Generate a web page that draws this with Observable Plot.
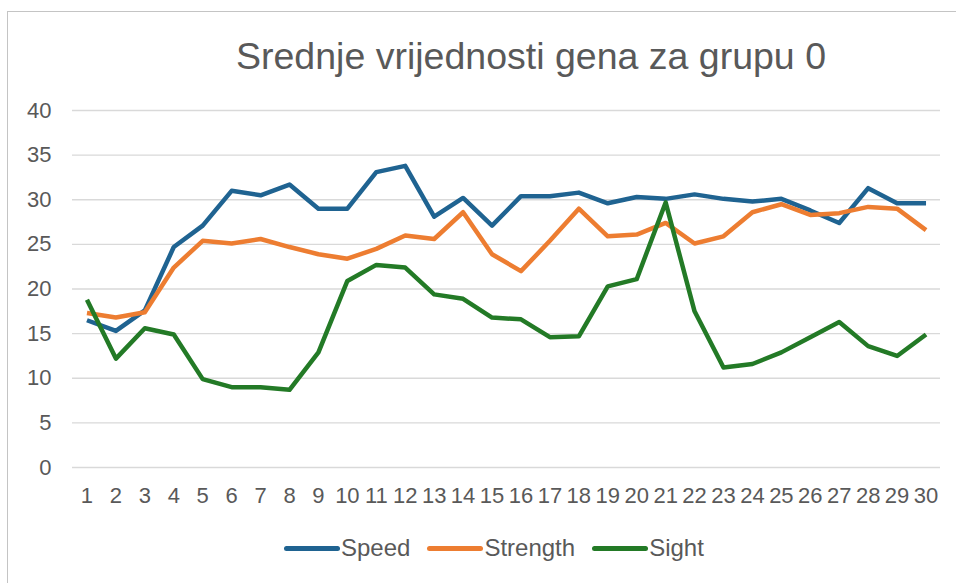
<!DOCTYPE html>
<html>
<head>
<meta charset="utf-8">
<script src="https://cdn.jsdelivr.net/npm/d3@7"></script>
<script src="https://cdn.jsdelivr.net/npm/@observablehq/plot@0.6"></script>
<style>
  body { margin: 0; background: #fff; font-family: "Liberation Sans", Arial, sans-serif; }
  #frame { position: absolute; left: 7px; top: 11px; width: 1000px; height: 700px; border: 1.5px solid #c4c4c4; box-sizing: border-box; }
  #title { position: absolute; left: 0; width: 1062px; top: 35px; text-align: center; font-size: 37.5px; color: #595959; white-space: nowrap; }
  #chart { position: absolute; left: 0; top: 0; }
  #legend { position: absolute; left: 284px; top: 534px; font-size: 24px; color: #595959; display: flex; align-items: center; white-space: nowrap; }
  #legend .item { display: flex; align-items: center; margin-right: 17px; }
  #legend .sw { display: inline-block; width: 56px; height: 5px; border-radius: 2.5px; margin-right: 1px; }
</style>
</head>
<body>
<div id="frame"></div>
<div id="title">Srednje vrijednosti gena za grupu 0</div>
<div id="chart"></div>
<div id="legend"></div>
<script>
const groups = Array.from({length: 30}, (_, i) => i + 1);
const seriesNames = ["Speed", "Strength", "Sight"];
const seriesColors = ["#1f6391", "#ed7d31", "#237a26"];
const speed = [16.5, 15.3, 17.6, 24.7, 27.1, 31.0, 30.5, 31.7, 29.0, 29.0, 33.1, 33.8, 28.1, 30.2, 27.1, 30.4, 30.4, 30.8, 29.6, 30.3, 30.1, 30.6, 30.1, 29.8, 30.1, 28.8, 27.4, 31.3, 29.6, 29.6];
const strength = [17.3, 16.8, 17.4, 22.4, 25.4, 25.1, 25.6, 24.7, 23.9, 23.4, 24.5, 26.0, 25.6, 28.6, 23.9, 22.0, 25.4, 29.0, 25.9, 26.1, 27.4, 25.1, 25.9, 28.6, 29.5, 28.3, 28.5, 29.2, 29.0, 26.6];
const sight = [18.8, 12.2, 15.6, 14.9, 9.9, 9.0, 9.0, 8.7, 12.9, 20.9, 22.7, 22.4, 19.4, 18.9, 16.8, 16.6, 14.6, 14.7, 20.3, 21.1, 29.7, 17.5, 11.2, 11.6, 12.9, 14.6, 16.3, 13.6, 12.5, 14.9];
const yTicks = [0, 5, 10, 15, 20, 25, 30, 35, 40];

const seriesValues = [speed, strength, sight];
const rows = [];
seriesNames.forEach((name, s) => {
  groups.forEach((g, i) => rows.push({series: name, group: g, value: seriesValues[s][i]}));
});

const chart = Plot.plot({
  width: 956,
  height: 520,
  marginTop: 110,
  marginBottom: 53,
  marginLeft: 72,
  marginRight: 16,
  style: {fontFamily: '"Liberation Sans", Arial, sans-serif', background: "transparent", overflow: "visible"},
  x: {type: "linear", domain: [0.5, 30.5], label: null},
  y: {domain: [0, 40], label: null},
  color: {domain: seriesNames, range: seriesColors},
  marks: [
    Plot.ruleY(yTicks, {stroke: "#d9d9d9", strokeWidth: 1.3}),
    Plot.axisY(yTicks, {tickSize: 0, tickPadding: 21, fontSize: 22, fill: "#595959", label: null}),
    Plot.axisX(groups, {tickSize: 0, tickPadding: 20, fontSize: 22, fill: "#595959", label: null, tickFormat: d => String(d)}),
    Plot.line(rows, {x: "group", y: "value", z: "series", stroke: "series", strokeWidth: 4.5, strokeLinejoin: "round", strokeLinecap: "butt"})
  ]
});
document.getElementById("chart").appendChild(chart);

const legend = document.getElementById("legend");
seriesNames.forEach((name, i) => {
  const item = document.createElement("div");
  item.className = "item";
  const sw = document.createElement("span");
  sw.className = "sw";
  sw.style.background = seriesColors[i];
  item.appendChild(sw);
  const t = document.createElement("span");
  t.textContent = name;
  item.appendChild(t);
  legend.appendChild(item);
});
</script>
</body>
</html>
